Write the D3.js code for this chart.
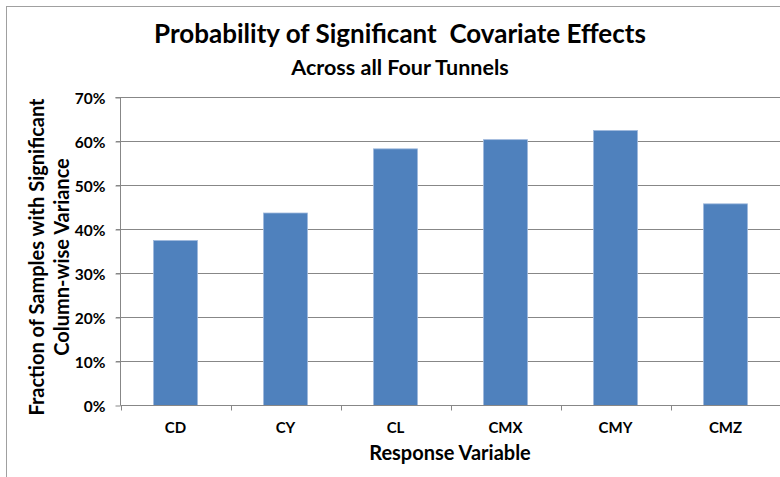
<!DOCTYPE html>
<html>
<head>
<meta charset="utf-8">
<script src="https://cdn.jsdelivr.net/npm/d3@7"></script>
<style>
  html, body { margin: 0; padding: 0; background: #fff; }
  svg { display: block; }
  text { font-family: Lato, "Open Sans", "DejaVu Sans", sans-serif; font-weight: bold; fill: #000; }
</style>
</head>
<body>
<svg id="chart" width="780" height="477"></svg>
<script>
const categories = ["CD", "CY", "CL", "CMX", "CMY", "CMZ"];
const values = [0.375, 0.4375, 0.5833, 0.6042, 0.625, 0.4583];
const yTicks = [0, 0.1, 0.2, 0.3, 0.4, 0.5, 0.6, 0.7];
const titleText = "Probability of Significant\u00A0 Covariate Effects";
const subtitleText = "Across all Four Tunnels";
const yTitleLines = ["Fraction of Samples with Significant", "Column-wise Variance"];
const xTitleText = "Response Variable";

const svg = d3.select("#chart");
const W = 780, H = 477;

// outer chart border
svg.append("rect")
  .attr("x", 6.5).attr("y", 6.5)
  .attr("width", W + 10).attr("height", H + 10)
  .attr("fill", "#fff").attr("stroke", "#a0a0a0").attr("stroke-width", 1);

const x = d3.scaleBand().domain(categories)
  .range([120.5, 780.5]).paddingInner(0.6).paddingOuter(0.3);
const y = d3.scaleLinear().domain([0, 0.7]).range([405.5, 97.5]);

// gridlines
svg.append("g").selectAll("line").data(yTicks.filter(d => d > 0)).join("line")
  .attr("x1", 116).attr("x2", 781)
  .attr("y1", d => y(d)).attr("y2", d => y(d))
  .attr("stroke", "#878787").attr("stroke-width", 1);

// bars
svg.append("g").selectAll("rect").data(categories).join("rect")
  .attr("x", d => x(d))
  .attr("y", (d, i) => y(values[i]))
  .attr("width", x.bandwidth())
  .attr("height", (d, i) => y(0) - y(values[i]))
  .attr("fill", "#4F81BD")
  .attr("stroke", "#9fb8dc").attr("stroke-width", 0.8);

// y axis
const yAxis = d3.axisLeft(y).tickValues(yTicks).tickFormat(d3.format(".0%")).tickSize(5).tickPadding(10);
const gy = svg.append("g").attr("transform", "translate(120.5,0)").call(yAxis);
gy.select(".domain").attr("stroke", "#878787").attr("d", `M-5,${y(0.7)}H0V${y(0)}`);
gy.selectAll(".tick line").attr("stroke", "#878787");
gy.selectAll(".tick text").attr("font-size", 15.5).attr("font-family", "Lato, sans-serif").attr("font-weight", "bold").attr("fill", "#000").attr("dy", "0.36em");

// x axis
const gx = svg.append("g").attr("transform", `translate(0,${y(0)})`)
  .call(d3.axisBottom(x).tickSize(0).tickPadding(0));
gx.select(".domain").attr("stroke", "#878787").attr("d", `M120.5,0H781`);
gx.selectAll(".tick text").attr("font-size", 15).attr("font-family", "Lato, sans-serif").attr("font-weight", "bold").attr("fill", "#000").attr("y", 27).attr("dy", 0);
// boundary tick marks between categories
const step = x.step();
const bounds = d3.range(categories.length + 1).map(i => x(categories[0]) - x.paddingOuter() * step + i * step);
gx.append("g").selectAll("line").data(bounds).join("line")
  .attr("x1", d => Math.round(d) + 0.5).attr("x2", d => Math.round(d) + 0.5)
  .attr("y1", 0).attr("y2", 5).attr("stroke", "#878787");

// titles
svg.append("text").attr("x", 400).attr("y", 43).attr("text-anchor", "middle")
  .attr("font-size", 26).text(titleText);
svg.append("text").attr("x", 400).attr("y", 75).attr("text-anchor", "middle")
  .attr("font-size", 21.5).text(subtitleText);

// x title
svg.append("text").attr("x", 450).attr("y", 460).attr("text-anchor", "middle")
  .attr("font-size", 20).text(xTitleText);

// y title
const yt = svg.append("text").attr("transform", "translate(44,257) rotate(-90)")
  .attr("text-anchor", "middle").attr("font-size", 20);
yt.append("tspan").attr("x", 0).attr("y", 0).text(yTitleLines[0]);
yt.append("tspan").attr("x", 0).attr("y", 25).text(yTitleLines[1]);
</script>
</body>
</html>
